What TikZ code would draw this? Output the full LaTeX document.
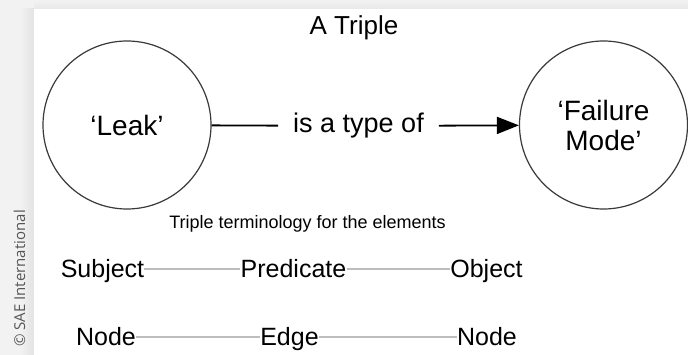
\documentclass[tikz,border=0pt]{standalone}
\usepackage{fontspec}
\setmainfont{Liberation Sans}
\newfontfamily\copyfont{Open Sans}
\usetikzlibrary{arrows.meta}
\definecolor{circ}{HTML}{3A3A3A}
\definecolor{conn}{HTML}{BDBDBD}
\definecolor{frame}{HTML}{F2F2F2}
\definecolor{copyc}{HTML}{555555}
\tikzset{
  bubble/.style={circle, draw=circ, line width=1.2pt, minimum size=168pt, inner sep=0pt, align=center, font=\fontsize{28}{30}\selectfont},
  term/.style={anchor=base, inner sep=0pt, font=\fontsize{25}{28}\selectfont},
  termline/.style={draw=conn, line width=2pt},
  rel/.style={line width=1.8pt, black}
}
\begin{document}
\begin{tikzpicture}[x=1pt, y=-1pt]
\useasboundingbox (0,0) rectangle (688,355);
% frame
\fill[frame] (0,0) rectangle (688,355);
\shade[left color=frame, right color=gray!22] (20,9) rectangle (34,355);
\shade[top color=frame, bottom color=gray!18] (34,0) rectangle (688,9);
\fill[white] (34,9) rectangle (688,355);
% copyright
\node[rotate=90, anchor=base east, inner sep=0pt, text=copyc, font=\copyfont\fontsize{15}{17}\selectfont] (copy) at (25,210) {© SAE International};
% title
\node[anchor=base, inner sep=0pt, font=\fontsize{26}{28}\selectfont] (title) at (354,35) {A Triple};
% triple
\node[bubble] (leak) at (127,125) {‘Leak’};
\node[bubble] (fm) at (603.5,125) {‘Failure\\Mode’};
\node[inner xsep=15pt, inner ysep=0pt, font=\fontsize{27}{29}\selectfont] (lbl) at (358.5,126) {is a type of};
\draw[rel] (leak) -- (lbl);
\draw[rel, -{Triangle[length=22pt, width=17pt]}] (lbl) -- (fm);
% terminology
\node[anchor=base, inner sep=0pt, font=\fontsize{18}{20}\selectfont] (caption) at (307.5,229) {Triple terminology for the elements};
\node[term] (subj) at (102.5,278) {Subject};
\node[term] (pred) at (293.5,278) {Predicate};
\node[term] (obj) at (486.5,278) {Object};
\node[term] (n1) at (106,345) {Node};
\node[term] (edge) at (289.5,345) {Edge};
\node[term] (n2) at (487,345) {Node};
\draw[termline] ([yshift=9pt]subj.base east) -- ([yshift=9pt]pred.base west);
\draw[termline] ([yshift=9pt]pred.base east) -- ([yshift=9pt]obj.base west);
\draw[termline] ([yshift=8.5pt]n1.base east) -- ([yshift=8.5pt]edge.base west);
\draw[termline] ([yshift=8.5pt]edge.base east) -- ([yshift=8.5pt]n2.base west);
\end{tikzpicture}
\end{document}
